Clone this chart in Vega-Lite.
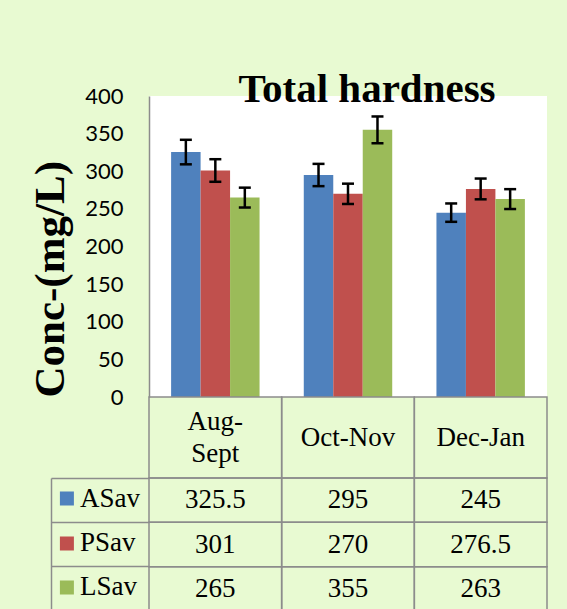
{
  "$schema": "https://vega.github.io/schema/vega-lite/v6.json",
  "background": "#e8fad2",
  "padding": {"left": 29, "top": 69, "right": 25, "bottom": 0},
  "spacing": 0,
  "bounds": "flush",
  "config": {
    "view": {"stroke": null},
    "axisY": {"labelOverlap": false}
  },
  "datasets": {
    "main": [
      {"period": "Aug-Sept", "series": "ASav", "value": 325.5, "lo": 309.2, "hi": 341.8},
      {"period": "Aug-Sept", "series": "PSav", "value": 301, "lo": 286, "hi": 316},
      {"period": "Aug-Sept", "series": "LSav", "value": 265, "lo": 251.8, "hi": 278.2},
      {"period": "Oct-Nov", "series": "ASav", "value": 295, "lo": 280.2, "hi": 309.8},
      {"period": "Oct-Nov", "series": "PSav", "value": 270, "lo": 256.5, "hi": 283.5},
      {"period": "Oct-Nov", "series": "LSav", "value": 355, "lo": 337.2, "hi": 372.8},
      {"period": "Dec-Jan", "series": "ASav", "value": 245, "lo": 232.8, "hi": 257.2},
      {"period": "Dec-Jan", "series": "PSav", "value": 276.5, "lo": 262.7, "hi": 290.3},
      {"period": "Dec-Jan", "series": "LSav", "value": 263, "lo": 249.8, "hi": 276.2}
    ],
    "periods": [
      {"period": "Aug-Sept", "label": "Aug-\nSept"},
      {"period": "Oct-Nov", "label": "Oct-Nov"},
      {"period": "Dec-Jan", "label": "Dec-Jan"}
    ]
  },
  "vconcat": [
    {
      "width": 398,
      "height": 301,
      "view": {"fill": "white", "stroke": null},
      "data": {"name": "main"},
      "title": {
        "text": "Total hardness",
        "font": "Liberation Serif",
        "fontSize": 41,
        "fontWeight": "bold",
        "color": "black",
        "anchor": "middle",
        "frame": "group",
        "offset": -58,
        "baseline": "alphabetic",
        "dx": 19
      },
      "encoding": {
        "x": {
          "field": "period", "type": "nominal",
          "sort": ["Aug-Sept", "Oct-Nov", "Dec-Jan"],
          "scale": {"paddingInner": 0, "paddingOuter": 0},
          "axis": null
        },
        "xOffset": {
          "field": "series", "type": "nominal",
          "sort": ["ASav", "PSav", "LSav"],
          "scale": {"paddingInner": 0, "paddingOuter": 0.75}
        }
      },
      "layer": [
        {
          "mark": {"type": "bar"},
          "encoding": {
            "y": {
              "field": "value", "type": "quantitative",
              "scale": {"domain": [0, 400], "nice": false},
              "axis": {
                "values": [0, 50, 100, 150, 200, 250, 300, 350, 400],
                "labelOverlap": false,
                "title": "Conc-(mg/L)",
                "titleFont": "Liberation Serif",
                "titleFontSize": 43,
                "titleFontWeight": "bold",
                "titleColor": "black",
                "titleAnchor": "start",
                "titlePadding": 12,
                "labelFont": "Lato",
                "labelFontSize": 22,
                "labelColor": "black",
                "labelPadding": 26,
                "ticks": false,
                "grid": false,
                "domainColor": "#8c8c8c",
                "domainWidth": 1.5
              }
            },
            "color": {
              "field": "series", "type": "nominal",
              "scale": {"domain": ["ASav", "PSav", "LSav"], "range": ["#4f81bd", "#c0504d", "#9bbb59"]},
              "legend": null
            }
          }
        },
        {
          "mark": {"type": "rule", "color": "black", "strokeWidth": 2.5},
          "encoding": {
            "y": {
              "field": "lo", "type": "quantitative",
              "axis": {
                "values": [0, 50, 100, 150, 200, 250, 300, 350, 400],
                "labelOverlap": false,
                "title": "Conc-(mg/L)",
                "titleFont": "Liberation Serif",
                "titleFontSize": 43,
                "titleFontWeight": "bold",
                "titleColor": "black",
                "titleAnchor": "start",
                "titlePadding": 12,
                "labelFont": "Lato",
                "labelFontSize": 22,
                "labelColor": "black",
                "labelPadding": 26,
                "ticks": false,
                "grid": false,
                "domainColor": "#8c8c8c",
                "domainWidth": 1.5
              }
            },
            "y2": {"field": "hi"}
          }
        },
        {
          "mark": {"type": "tick", "color": "black", "thickness": 2.5, "size": 12, "opacity": 1},
          "encoding": {
            "y": {
              "field": "lo", "type": "quantitative",
              "axis": {
                "values": [0, 50, 100, 150, 200, 250, 300, 350, 400],
                "labelOverlap": false,
                "title": "Conc-(mg/L)",
                "titleFont": "Liberation Serif",
                "titleFontSize": 43,
                "titleFontWeight": "bold",
                "titleColor": "black",
                "titleAnchor": "start",
                "titlePadding": 12,
                "labelFont": "Lato",
                "labelFontSize": 22,
                "labelColor": "black",
                "labelPadding": 26,
                "ticks": false,
                "grid": false,
                "domainColor": "#8c8c8c",
                "domainWidth": 1.5
              }
            }
          }
        },
        {
          "mark": {"type": "tick", "color": "black", "thickness": 2.5, "size": 12, "opacity": 1},
          "encoding": {
            "y": {
              "field": "hi", "type": "quantitative",
              "axis": {
                "values": [0, 50, 100, 150, 200, 250, 300, 350, 400],
                "labelOverlap": false,
                "title": "Conc-(mg/L)",
                "titleFont": "Liberation Serif",
                "titleFontSize": 43,
                "titleFontWeight": "bold",
                "titleColor": "black",
                "titleAnchor": "start",
                "titlePadding": 12,
                "labelFont": "Lato",
                "labelFontSize": 22,
                "labelColor": "black",
                "labelPadding": 26,
                "ticks": false,
                "grid": false,
                "domainColor": "#8c8c8c",
                "domainWidth": 1.5
              }
            }
          }
        }
      ]
    },
    {
      "width": 398,
      "height": 81,
      "data": {"name": "periods"},
      "encoding": {
        "x": {
          "field": "period", "type": "nominal",
          "sort": ["Aug-Sept", "Oct-Nov", "Dec-Jan"],
          "scale": {"paddingInner": 0, "paddingOuter": 0},
          "axis": null
        }
      },
      "layer": [
        {"mark": {"type": "rect", "fill": "transparent", "stroke": "#8c8c8c", "strokeWidth": 1.5}},
        {
          "transform": [{"filter": "datum.period !== 'Aug-Sept'"}],
          "mark": {"type": "text", "font": "Liberation Serif", "fontSize": 27, "color": "black"},
          "encoding": {"text": {"field": "label", "type": "nominal"}}
        },
        {
          "transform": [{"filter": "datum.period === 'Aug-Sept'"}],
          "mark": {"type": "text", "font": "Liberation Serif", "fontSize": 27, "lineBreak": "\n", "lineHeight": 32, "dy": -16, "color": "black"},
          "encoding": {"text": {"field": "label", "type": "nominal"}}
        }
      ]
    },
    {
      "width": 398,
      "height": 133,
      "data": {"name": "main"},
      "encoding": {
        "x": {
          "field": "period", "type": "nominal",
          "sort": ["Aug-Sept", "Oct-Nov", "Dec-Jan"],
          "scale": {"paddingInner": 0, "paddingOuter": 0},
          "axis": null
        }
      },
      "layer": [
        {
          "mark": {"type": "rect", "fill": "transparent", "stroke": "#8c8c8c", "strokeWidth": 1.5},
          "encoding": {
            "y": {
              "field": "series", "type": "nominal",
              "sort": ["ASav", "PSav", "LSav"],
              "scale": {"paddingInner": 0, "paddingOuter": 0},
              "axis": {
                "orient": "left", "offset": 98, "title": null, "labels": false,
                "ticks": true, "tickSize": -98, "tickColor": "#8c8c8c", "tickWidth": 1.5,
                "bandPosition": 1, "tickExtra": true,
                "domain": true, "domainColor": "#8c8c8c", "domainWidth": 1.5, "grid": false
              }
            }
          }
        },
        {
          "mark": {"type": "text", "font": "Liberation Serif", "fontSize": 27, "color": "black"},
          "encoding": {
            "y": {
              "field": "series", "type": "nominal",
              "sort": ["ASav", "PSav", "LSav"],
              "axis": {
                "orient": "left", "offset": 75.6, "title": null, "domain": false, "grid": false,
                "ticks": true, "tickSize": 14, "tickWidth": 14, "tickOffset": -2,
                "tickColor": {"condition": [{"test": "datum.value === 'ASav'", "value": "#4f81bd"}, {"test": "datum.value === 'PSav'", "value": "#c0504d"}], "value": "#9bbb59"},
                "labelAlign": "left", "labelPadding": -20,
                "labelFont": "Liberation Serif", "labelFontSize": 27, "labelColor": "black"
              }
            },
            "text": {"field": "value", "type": "quantitative"}
          }
        }
      ],
      "resolve": {"axis": {"y": "independent"}}
    }
  ]
}
